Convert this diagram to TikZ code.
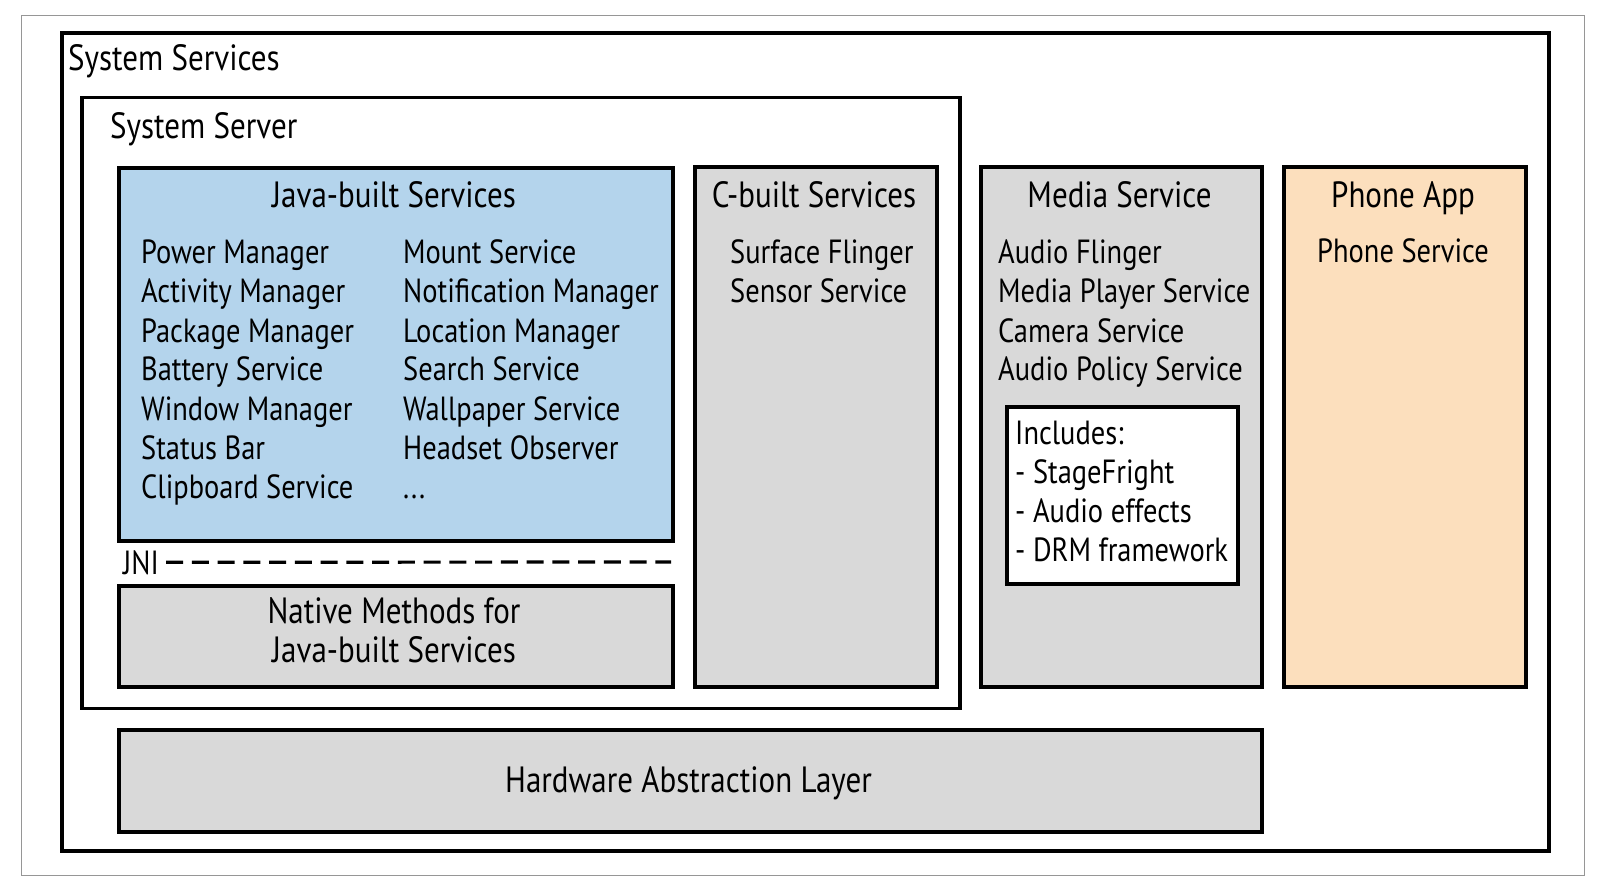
\documentclass[tikz,border=0pt]{standalone}
\usepackage{fontspec}
\setmainfont{PT Sans}[FakeStretch=0.85]
\definecolor{frameGray}{RGB}{150,150,150}
\definecolor{javaBlue}{RGB}{180,212,236}
\definecolor{boxGray}{RGB}{217,217,217}
\definecolor{phonePeach}{RGB}{252,223,189}
\begin{document}
\begin{tikzpicture}[x=1pt,y=-1pt,
  blk/.style={draw=black,line width=4pt,rectangle,inner sep=0pt,anchor=north west},
  ttl/.style={inner sep=0pt,font=\fontsize{36.5}{39}\selectfont,text=black},
  txt/.style={inner sep=0pt,font=\fontsize{33.5}{39}\selectfont,text=black},
  jnidash/.style={draw=black,line width=3.2pt,dash pattern=on 17pt off 8.75pt}]
\useasboundingbox (0,0) rectangle (1600,890);
% frames
\node[draw=frameGray,line width=1.2pt,rectangle,inner sep=0pt,anchor=north west,minimum width=1563pt,minimum height=860pt] (frame) at (21,15) {};
\node[blk,minimum width=1486.5pt,minimum height=817.5pt] (sysvc) at (60,31.5) {};
\node[blk,line width=3.5pt,minimum width=878pt,minimum height=610.5pt] (sysserver) at (80,96) {};
\node[blk,fill=javaBlue,minimum width=554pt,minimum height=373pt] (java) at (117,166) {};
\node[blk,fill=boxGray,minimum width=554pt,minimum height=101pt] (native) at (117,584) {};
\node[blk,fill=boxGray,minimum width=242pt,minimum height=519.5pt] (cbuilt) at (693,165.5) {};
\node[blk,fill=boxGray,minimum width=281pt,minimum height=519.5pt] (media) at (979,165.5) {};
\node[blk,fill=white,minimum width=231pt,minimum height=177pt] (incl) at (1004.5,405) {};
\node[blk,fill=phonePeach,minimum width=242pt,minimum height=519.5pt] (phone) at (1282,165.5) {};
\node[blk,fill=boxGray,minimum width=1143pt,minimum height=102pt] (hal) at (117,727.5) {};
% titles
\node[ttl,anchor=base west] (tsysvc) at (68,71) {System Services};
\node[ttl,anchor=base west] (tsysserver) at (110,139) {System Server};
\node[ttl,anchor=base] (tjava) at (394,208) {Java-built Services};
\node[ttl,anchor=base] (tcbuilt) at (814,208) {C-built Services};
\node[ttl,anchor=base] (tmedia) at (1119.5,208) {Media Service};
\node[ttl,anchor=base] (tphone) at (1403,208) {Phone App};
\node[txt,anchor=base] (tphonesvc) at (1403,263) {Phone Service};
\node[ttl,anchor=base] (thal) at (688.5,792) {Hardware Abstraction Layer};
\node[ttl,anchor=base] (tnat1) at (394,623.5) {Native Methods for};
\node[ttl,anchor=base] (tnat2) at (394,662.5) {Java-built Services};
% java lists
\foreach \t [count=\i] in {Power Manager,Activity Manager,Package Manager,Battery Service,Window Manager,Status Bar,Clipboard Service}
  \node[txt,anchor=base west] (jl\i) at (141,{225+39*\i}) {\t};
\foreach \t [count=\i] in {Mount Service,Notification Manager,Location Manager,Search Service,Wallpaper Service,Headset Observer}
  \node[txt,anchor=base west] (jr\i) at (403,{225+39*\i}) {\t};
\node[txt,anchor=base west] (jr7) at (403,498) {...};
% c-built list
\foreach \t [count=\i] in {Surface Flinger,Sensor Service}
  \node[txt,anchor=base west] (cl\i) at (730,{225+39*\i}) {\t};
% media list
\foreach \t [count=\i] in {Audio Flinger,Media Player Service,Camera Service,Audio Policy Service}
  \node[txt,anchor=base west] (ml\i) at (998,{225+39*\i}) {\t};
% includes
\foreach \t [count=\i] in {Includes:,- StageFright,- Audio effects,- DRM framework}
  \node[txt,anchor=base west] (il\i) at (1015,{405+39*\i}) {\t};
% JNI
\node[txt,anchor=base west] (jni) at (123,574) {JNI};
\coordinate (jniend) at (671,562);
\draw[jnidash] ([xshift=7pt]jni.east) -- (jniend);
\end{tikzpicture}
\end{document}
